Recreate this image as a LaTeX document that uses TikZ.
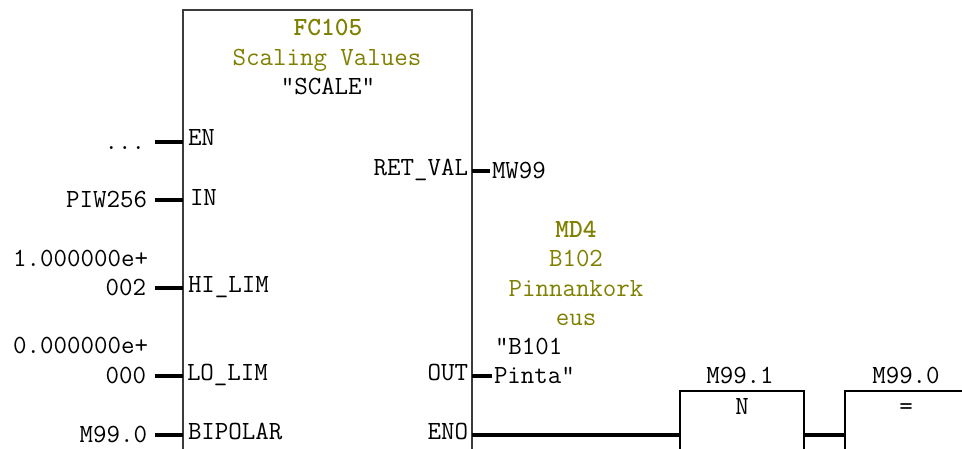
\documentclass[tikz,border=0pt]{standalone}
\usepackage{fontspec}
\definecolor{olivetxt}{RGB}{128,128,0}
\definecolor{boxline}{RGB}{60,60,60}
\tikzset{
  txt/.style={inner sep=0pt,outer sep=0pt,anchor=base,font=\fontsize{26.2}{26.2}\selectfont\ttfamily},
  lft/.style={txt,anchor=base west},
  rgt/.style={txt,anchor=base east},
  oliv/.style={txt,text=olivetxt},
  olivb/.style={oliv,font=\fontsize{26.2}{26.2}\selectfont\ttfamily\bfseries},
  blk/.style={draw=boxline,line width=2pt,fill=none,inner sep=0pt,outer sep=0pt,anchor=north west},
  wire/.style={line width=3.4pt,black},
}
\begin{document}
\begin{tikzpicture}[x=1pt,y=-1pt]
\useasboundingbox (0,0) rectangle (962,448);
\clip (0,0) rectangle (962,448);
% blocks
\node[blk,minimum width=289pt,minimum height=500pt] (fc) at (183,10) {};
\node[blk,draw=black,minimum width=124pt,minimum height=120pt] (nbox) at (680,391) {};
\node[blk,draw=black,minimum width=160pt,minimum height=120pt] (eqbox) at (845,391) {};
% block header
\node[olivb] (t1) at (328,35) {FC105};
\node[oliv] (t2) at (327,65) {Scaling Values};
\node[txt] (t3) at (328,94) {"SCALE"};
% pin names
\node[lft] (en) at (188,145) {EN};
\node[lft] (in) at (190,205) {IN};
\node[lft] (hi) at (188,292) {HI\_LIM};
\node[lft] (lo) at (187,380) {LO\_LIM};
\node[lft] (bi) at (188,439) {BIPOLAR};
\node[rgt] (ret) at (468,175) {RET\_VAL};
\node[rgt] (out) at (468,380) {OUT};
\node[rgt] (eno) at (468,439) {ENO};
% operands
\node[rgt] (v1) at (145,149) {...};
\node[rgt] (v2) at (147,207) {PIW256};
\node[rgt] (v3a) at (148,266) {1.000000e+};
\node[rgt] (v3b) at (146,295) {002};
\node[rgt] (v4a) at (148,353) {0.000000e+};
\node[rgt] (v4b) at (146,383) {000};
\node[rgt] (v5) at (147,442) {M99.0};
\node[lft] (mw) at (492,178) {MW99};
\node[olivb] (md) at (576,237) {MD4};
\node[oliv] (b102) at (576,266) {B102};
\node[oliv] (pk1) at (576,296) {Pinnankork};
\node[oliv] (pk2) at (576,325) {eus};
\node[lft] (b101) at (495,354) {"B101};
\node[lft] (pinta) at (494,383) {Pinta"};
\node[txt] (m1) at (740,383) {M99.1};
\node[txt] (m0) at (906,383) {M99.0};
\node[txt] (nn) at (742,414) {N};
\node[txt] (eq) at (906,414) {=};
% connector free ends
\coordinate (c1) at (155,142);
\coordinate (c2) at (155,200);
\coordinate (c3) at (155,288);
\coordinate (c4) at (155,376);
\coordinate (c5) at (155,435);
\coordinate (c6) at (490,171);
\coordinate (c7) at (492,376);
\coordinate (c8) at (472,435);
% connectors
\draw[wire] (c1) -- (fc.west |- c1);
\draw[wire] (c2) -- (fc.west |- c2);
\draw[wire] (c3) -- (fc.west |- c3);
\draw[wire] (c4) -- (fc.west |- c4);
\draw[wire] (c5) -- (fc.west |- c5);
\draw[wire] (fc.east |- c6) -- (c6);
\draw[wire] (fc.east |- c7) -- (c7);
\draw[wire] (c8) -- (nbox.west |- c8);
\draw[wire] (nbox.east |- c8) -- (eqbox.west |- c8);
\end{tikzpicture}
\end{document}
